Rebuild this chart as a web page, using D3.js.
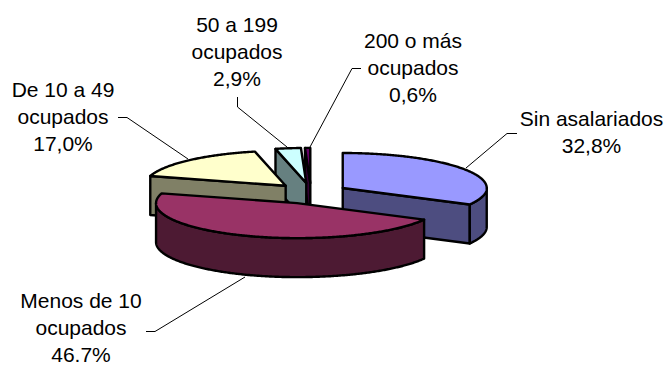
<!DOCTYPE html>
<html>
<head>
<meta charset="utf-8">
<script src="https://cdn.jsdelivr.net/npm/d3@7"></script>
<style>
html,body{margin:0;padding:0;background:#fff}
svg{display:block}
text{font-family:"Liberation Sans",Arial,sans-serif;font-size:21px;fill:#000}
</style>
</head>
<body>
<svg id="chart" width="667" height="365"></svg>
<script>
const categories = ["Sin asalariados","Menos de 10 ocupados","De 10 a 49 ocupados","50 a 199 ocupados","200 o más ocupados"];
const shares = [32.8,46.7,17.0,2.9,0.6];
const topColors = ["#9999FF","#993366","#FFFFCC","#CCFFFF","#660066"];
const sideColors = ["#4D4D80","#4D1A33","#808066","#668080","#330033"];
const labelLines = [["Sin asalariados","32,8%"],["Menos de 10","ocupados","46.7%"],["De 10 a 49","ocupados","17,0%"],["50 a 199","ocupados","2,9%"],["200 o más","ocupados","0,6%"]];
const labelAnchors = [[591.5,126],[81,308],[63,97],[237,32],[413,48]];
const leaders = [[[466,168],[507,133.5],[517,133.5]],[[245,277],[155,331.5],[146,331.5]],[[188,159],[127,117.5],[118,117.5]],[[287,147],[237.5,107],[237.5,97]],[[310,147],[352,68.5],[361,68.5]]];
const drawOrder = [4,3,2,0,1];

const svg = d3.select("#chart");
const cx = 311, cy = 193.4, ry = 35, depth = 39, ex = 37, ey = 10.5;
const pie = d3.pie().sort(null).value(d => d);
const arcs = pie(shares);
const sx = d3.scaleLinear().domain([-1,0,1]).range([-141,0,144]);
const sy = d3.scaleLinear().domain([-1,1]).range([-ry,ry]);
const line = d3.line();
const TAU = Math.PI*2;

function apex(a){
  const m = (a.startAngle+a.endAngle)/2;
  return [cx+ex*Math.sin(m), cy-ey*Math.cos(m)];
}
function rim(a,t,dy=0){
  const c = apex(a);
  return [c[0]+sx(Math.sin(t)), c[1]-sy(Math.cos(t))+dy];
}
function samples(t0,t1){
  const n = Math.max(2,Math.ceil(Math.abs(t1-t0)/0.01));
  return d3.range(n+1).map(i => t0+(t1-t0)*i/n);
}
function closed(points){ return line(points)+"Z"; }
function face(g,points,fill){
  g.append("path").attr("d",closed(points)).attr("fill",fill)
   .attr("stroke","#000").attr("stroke-width",2.4).attr("stroke-linejoin","round");
}
function cutFace(g,a,t,fill){
  const c = apex(a), r = rim(a,t);
  face(g,[c,r,[r[0],r[1]+depth],[c[0],c[1]+depth]],fill);
}

drawOrder.forEach(i => {
  const a = arcs[i], g = svg.append("g");
  const c = apex(a);
  // cut faces whose outward normal points toward the viewer
  if (Math.sin(a.endAngle) > 1e-6) cutFace(g,a,a.endAngle,sideColors[i]);
  if (Math.sin(a.startAngle) < -1e-6) cutFace(g,a,a.startAngle,sideColors[i]);
  // outer wall: the part of the rim in the lower half
  const t0 = Math.max(a.startAngle,TAU/4), t1 = Math.min(a.endAngle,3*TAU/4);
  if (t1 > t0) {
    const ts = samples(t0,t1);
    face(g,ts.map(t=>rim(a,t)).concat(ts.slice().reverse().map(t=>rim(a,t,depth))),sideColors[i]);
  }
  // top
  face(g,[c].concat(samples(a.startAngle,a.endAngle).map(t=>rim(a,t))),topColors[i]);
});

leaders.forEach(l => svg.append("path").attr("d",line(l)).attr("fill","none").attr("stroke","#000").attr("stroke-width",1));

labelLines.forEach((lines,i) => {
  const t = svg.append("text").attr("text-anchor","middle");
  lines.forEach((s,j) => t.append("tspan").attr("x",labelAnchors[i][0]).attr("y",labelAnchors[i][1]+j*27).text(s));
});
</script>
</body>
</html>
